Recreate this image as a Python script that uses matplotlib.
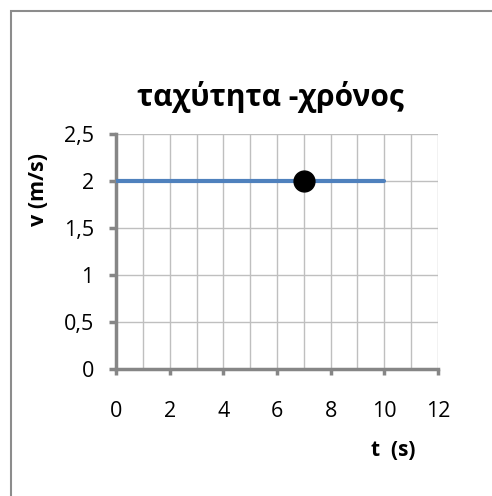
import matplotlib.pyplot as plt
from matplotlib.patches import Rectangle
from matplotlib.ticker import MultipleLocator, FuncFormatter

t = [0, 10]
v = [2, 2]
t_point = [7]
v_point = [2]

plt.rcParams['font.family'] = ['Open Sans', 'DejaVu Sans']

W, H = 492, 496
fig = plt.figure(figsize=(W / 100, H / 100), dpi=100)
ax = fig.add_axes([116 / W, 1 - 369 / H, (438 - 116) / W, (369 - 134) / H])

ax.plot(t, v, color='#4f81bd', lw=3, solid_capstyle='round', zorder=3)
ax.plot(t_point, v_point, 'o', color='black', ms=15, zorder=4)

ax.set_xlim(0, 12)
ax.set_ylim(0, 2.5)
ax.xaxis.set_major_locator(MultipleLocator(2))
ax.xaxis.set_minor_locator(MultipleLocator(1))
ax.yaxis.set_major_locator(MultipleLocator(0.5))
ax.yaxis.set_major_formatter(FuncFormatter(lambda y, p: ('%g' % y).replace('.', ',')))

ax.grid(True, which='both', axis='x', color='#bfbfbf', lw=1)
ax.grid(True, which='major', axis='y', color='#bfbfbf', lw=1)
ax.set_axisbelow(True)

for s in ['top', 'right']:
    ax.spines[s].set_visible(False)
for s in ['left', 'bottom']:
    ax.spines[s].set_color('#868686')
    ax.spines[s].set_linewidth(2.5)

ax.tick_params(axis='x', which='major', length=4, width=2.5, color='#868686', pad=19, labelsize=15.5)
ax.tick_params(axis='x', which='minor', length=0)
ax.tick_params(axis='y', length=5, width=2.5, color='#868686', pad=11, labelsize=15.5)

fig.text(270 / W, 1 - 97 / H, 'ταχύτητα -χρόνος', ha='center', va='center',
         fontsize=21.5, fontweight='bold')
fig.text(393 / W, 1 - 450 / H, 't  (s)', ha='center', va='center',
         fontsize=15, fontweight='bold')
fig.text(39 / W, 1 - 189 / H, 'v (m/s)', ha='center', va='center',
         rotation=90, fontsize=15.5, fontweight='bold')

fig.patches.append(Rectangle((11 / W, -0.1), 1.2, 1 - 11 / H + 0.1,
                             transform=fig.transFigure, fill=False,
                             edgecolor='#8c8c8c', lw=1.5))

fig.savefig('out.png', dpi=100)
